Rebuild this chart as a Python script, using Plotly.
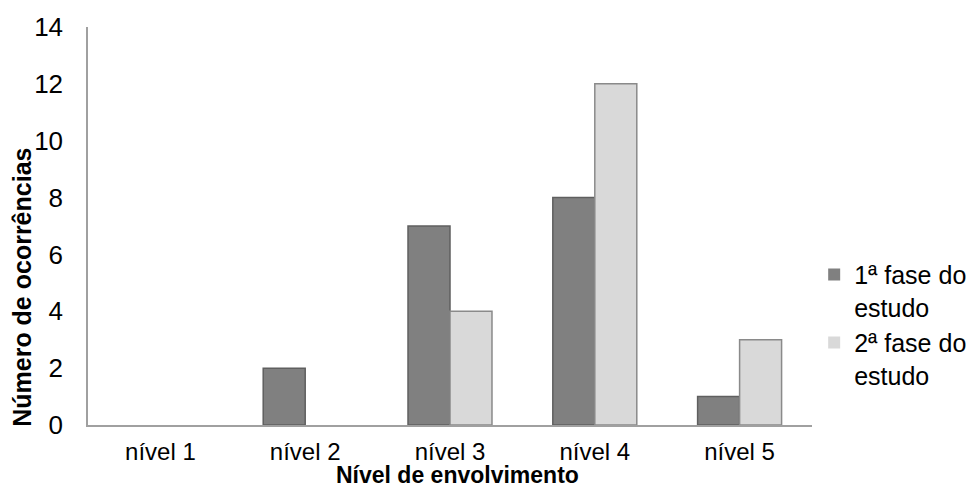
import plotly.graph_objects as go

niveis = ["nível 1", "nível 2", "nível 3", "nível 4", "nível 5"]
fase1 = [0, 2, 7, 8, 1]
fase2 = [0, 0, 4, 12, 3]
nomes = ["1ª fase do<br>estudo", "2ª fase do<br>estudo"]
titulo_x = "Nível de envolvimento"
titulo_y = "Número de ocorrências"

FONT = "Liberation Sans, Arial, sans-serif"


def outline(values, width=1.5):
    # no outline on empty bars so nothing shows at zero
    return [width if v else 0 for v in values]


fig = go.Figure()
fig.add_trace(go.Bar(
    x=niveis, y=fase1, name=nomes[0],
    marker=dict(color="#808080", line=dict(color="#5f5f5f", width=outline(fase1))),
))
fig.add_trace(go.Bar(
    x=niveis, y=fase2, name=nomes[1],
    marker=dict(color="#d9d9d9", line=dict(color="#8a8a8a", width=outline(fase2))),
))

fig.update_layout(
    width=972, height=491,
    margin=dict(l=88, r=160, t=27, b=66, autoexpand=False),
    plot_bgcolor="white", paper_bgcolor="white",
    barmode="group", bargap=0.42, bargroupgap=0,
    font=dict(family=FONT, size=26, color="#000000"),
    showlegend=True,
    legend=dict(
        x=1.003, y=0.435, xanchor="left", yanchor="top",
        valign="top", font=dict(size=25),
        itemwidth=30, tracegroupgap=10,
    ),
    xaxis=dict(
        showline=True, linecolor="#a0a0a0", linewidth=1.5,
        ticks="", showgrid=False,
        tickfont=dict(size=24), ticklabelstandoff=4,
    ),
    yaxis=dict(
        range=[0, 14], dtick=2,
        showline=True, linecolor="#a0a0a0", linewidth=1.5,
        ticks="", showgrid=False, zeroline=False,
        tickfont=dict(size=26), ticklabelstandoff=18,
    ),
    annotations=[
        dict(text=f"<b>{titulo_x}</b>", xref="paper", yref="paper",
             x=0.51, y=-0.163, xanchor="center", yanchor="bottom",
             showarrow=False, font=dict(size=23)),
        dict(text=f"<b>{titulo_y}</b>", xref="paper", yref="paper",
             x=-0.091, y=0.345, xanchor="center", yanchor="middle",
             textangle=-90, showarrow=False, font=dict(size=25)),
    ],
)

fig.write_html("out.html")
